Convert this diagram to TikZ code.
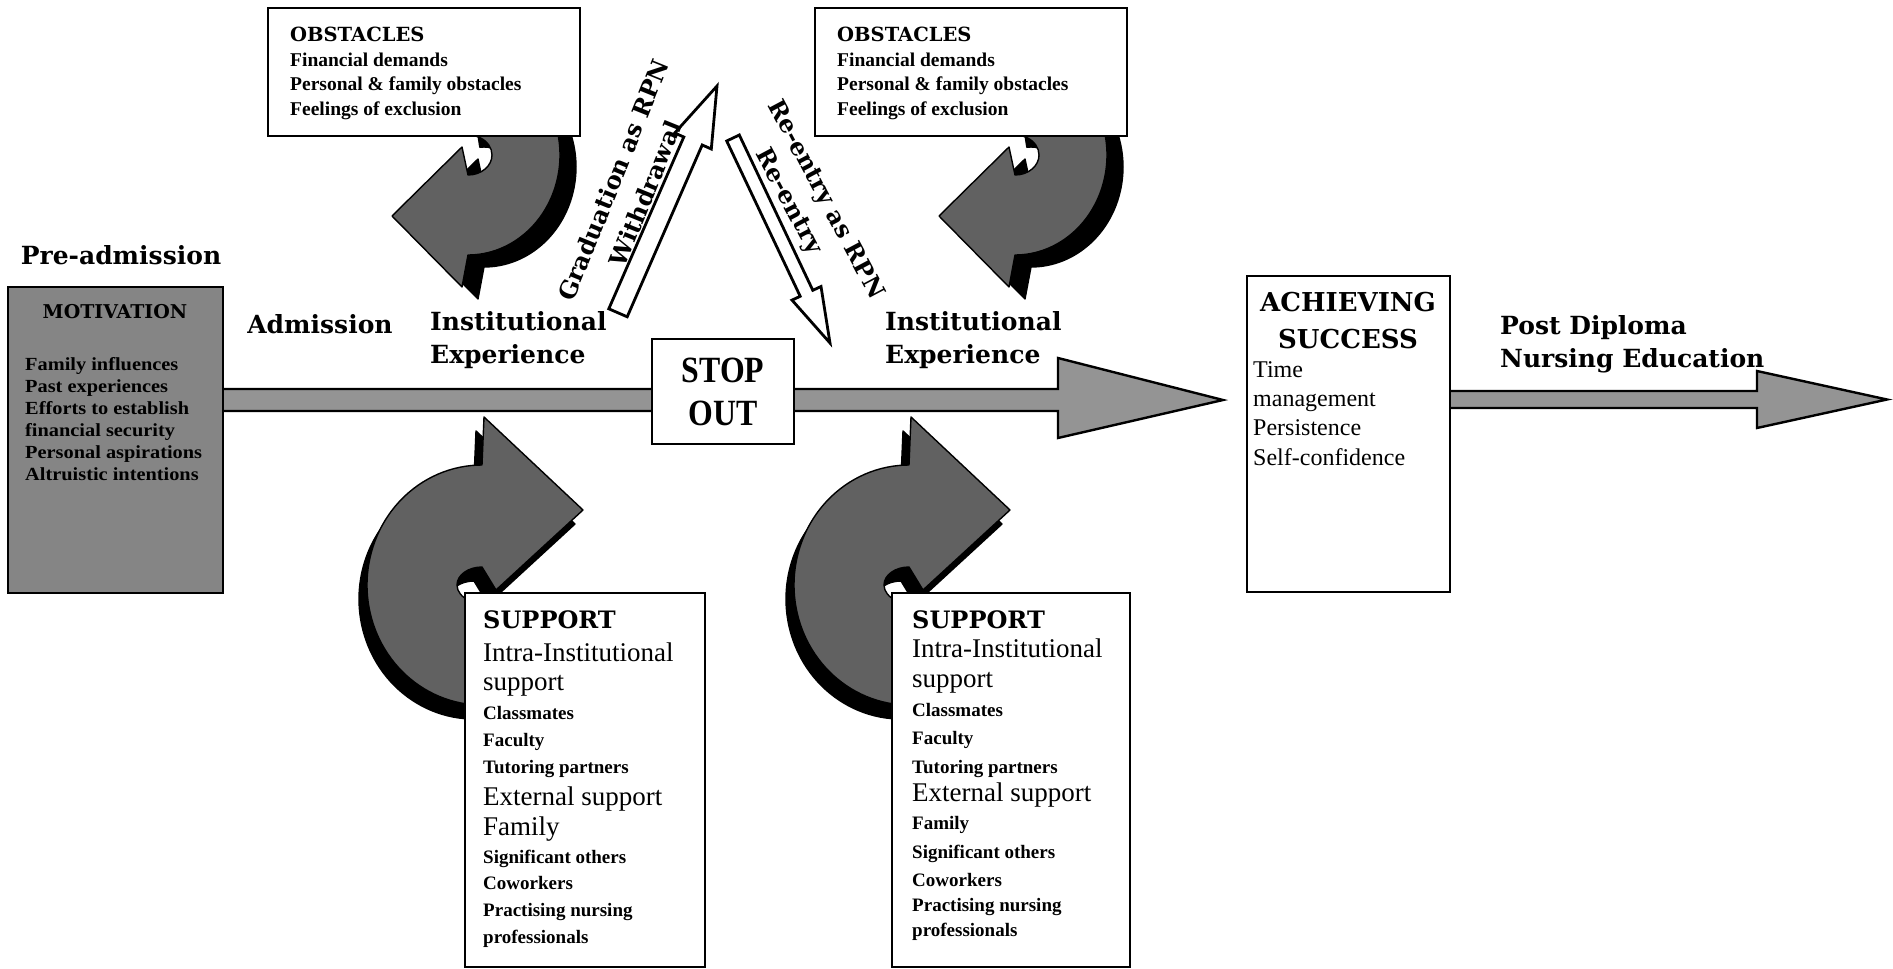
\documentclass[tikz,border=0pt]{standalone}
\usepackage{fontspec}
\setmainfont{Liberation Serif}
\newfontfamily\heavyfam{DejaVu Serif}
\newfontfamily\widefam{Liberation Serif}[FakeStretch=1.1]
\newfontfamily\condfam{Liberation Serif}[FakeStretch=0.86]
\newcommand{\hvy}[2]{\heavyfam\bfseries\fontsize{#1}{#2}\selectfont}
\newcommand{\rgl}[2]{\normalfont\fontsize{#1}{#2}\selectfont}
\newcommand{\bld}[2]{\normalfont\bfseries\fontsize{#1}{#2}\selectfont}
\usetikzlibrary{calc}
\def\obpath{($(468,155)+(-100:92 and 100)$) arc[start angle=-100,end angle=90,x radius=92,y radius=100] -- (462,287) -- (392,216) -- (462,147) -- ($(468,155)+(90:24 and 20)$) arc[start angle=90,end angle=-100,x radius=24,y radius=20] -- cycle}
\def\supath{($(482,585)+(75:115 and 120)$) arc[start angle=75,end angle=270,x radius=115,y radius=120] -- (484,417) -- (583,510) -- (496,590) -- ($(482,585)+(270:25 and 18)$) arc[start angle=270,end angle=75,x radius=25,y radius=18] -- cycle}
\begin{document}
\begin{tikzpicture}[x=1pt,y=-1pt,
  frame/.style={draw=black,line width=2.6pt,fill=white,inner sep=0pt},
  band/.style={draw=black,line width=2.4pt,fill=black!42,line join=miter},
  curvy/.style={draw=black,line width=1.4pt,fill=black!62,line join=round},
  shade3d/.style={draw=black,line width=1.4pt,fill=black,line join=round},
  hollow/.style={draw=black,line width=2.8pt,fill=white,line join=miter},
  bigl/.style={inner sep=0pt,font=\hvy{25}{33}},
  diag/.style={inner sep=0pt,font=\hvy{24}{30}},
  obH/.style={inner sep=0pt,anchor=base west,font=\hvy{19.5}{22}},
  obI/.style={inner sep=0pt,anchor=base west,font=\bld{19.5}{22}},
  supH/.style={inner sep=0pt,anchor=base west,font=\hvy{24}{28}},
  supbig/.style={inner sep=0pt,anchor=base west,font=\rgl{27}{30}},
  supsmall/.style={inner sep=0pt,anchor=base west,font=\bld{19}{22}},
  motH/.style={inner sep=0pt,font=\hvy{19}{23}},
  motI/.style={inner sep=0pt,anchor=base west,font={\widefam\bfseries\fontsize{18.5}{22}\selectfont}},
  achI/.style={inner sep=0pt,anchor=base west,font=\rgl{24}{30}}]
\useasboundingbox (0,0) rectangle (1893,969);
\fill[white] (0,0) rectangle (1893,969);

% main flow bands
\path[band] (222,389) -- (1058,389) -- (1058,358) -- (1223,400) -- (1058,438) -- (1058,411) -- (222,411) -- cycle;
\path[band] (1449,391) -- (1757,391) -- (1757,371) -- (1887,399.5) -- (1757,428) -- (1757,408) -- (1449,408) -- cycle;

% obstacle arrows
\path[shade3d,shift={(16,12)}] \obpath;
\path[curvy] \obpath;
\begin{scope}[shift={(547,0)}]
\path[shade3d,shift={(16,12)}] \obpath;
\path[curvy] \obpath;
\end{scope}

% support arrows
\path[shade3d,shift={(-8,14)}] \supath;
\path[curvy] \supath;
\begin{scope}[shift={(427,0)}]
\path[shade3d,shift={(-8,14)}] \supath;
\path[curvy] \supath;
\end{scope}

% hollow diagonal arrows
\path[hollow] (608.8,308.8) -- (683.8,137) -- (674.7,133) -- (717,86) -- (711.3,149) -- (702.2,145) -- (627.2,316.8) -- cycle;
\path[hollow] (726.7,141) -- (800.2,296.3) -- (792,300.1) -- (830,343) -- (821,286.5) -- (812.8,290.3) -- (739.3,135) -- cycle;

% boxes
\node[frame,fill=black!48,minimum width=215,minimum height=306] (motbox) at (115.5,440) {};
\node[frame,minimum width=142,minimum height=105,font={\condfam\bfseries\fontsize{37}{43}\selectfont},align=center] (stop) at (723,391.5) {STOP\\OUT};
\node[frame,minimum width=203,minimum height=316] (achbox) at (1348.5,434) {};
\node[frame,minimum width=312,minimum height=128] (ob1box) at (424,72) {};
\node[frame,minimum width=312,minimum height=128] (ob2box) at (971,72) {};
\node[frame,minimum width=240,minimum height=374] (sp1box) at (585,780) {};
\node[frame,minimum width=238,minimum height=374] (sp2box) at (1011,780) {};

% labels
\node[bigl] (pre) at (121,255) {Pre-admission};
\node[bigl] (adm) at (320,324) {Admission};
\node[bigl,align=left,anchor=west] (inst1) at (430,340) {Institutional\\Experience};
\node[bigl,align=left,anchor=west] (inst2) at (885,340) {Institutional\\Experience};
\node[bigl,align=left,anchor=west] (post) at (1500,344) {Post Diploma\\Nursing Education};
\node[diag,rotate=68] (gradA) at (613,180) {Graduation as RPN};
\node[diag,rotate=68] (gradB) at (645.6,193.4) {Withdrawal};
\node[diag,rotate=-62] (reA) at (825,200) {Re-entry as RPN};
\node[diag,rotate=-62] (reB) at (788,202) {Re-entry};

% motivation
\node[motH] (motH) at (115,312) {MOTIVATION};
\foreach \t/\y [count=\i] in {Family influences/370,Past experiences/392,Efforts to establish/414,financial security/436,Personal aspirations/458,Altruistic intentions/480}
  \node[motI] (mot\i) at (25,\y) {\t};

% achieving success
\node[inner sep=0pt,font=\hvy{26}{37},align=center] (ach) at (1348,321) {ACHIEVING\\SUCCESS};
\foreach \t/\y [count=\i] in {Time/377,management/406,Persistence/435,Self-confidence/465}
  \node[achI] (ach\i) at (1253,\y) {\t};

% obstacles texts
\foreach \x/\p in {290/oa,837/ob}{
  \node[obH] (\p0) at (\x,41) {OBSTACLES};
  \node[obI] (\p1) at (\x,66) {Financial demands};
  \node[obI] (\p2) at (\x,90) {Personal \& family obstacles};
  \node[obI] (\p3) at (\x,115) {Feelings of exclusion};
}

% support texts
\foreach \t/\s/\y [count=\i] in {SUPPORT/supH/628,Intra-Institutional/supbig/661,support/supbig/690,Classmates/supsmall/719,Faculty/supsmall/746,Tutoring partners/supsmall/773,External support/supbig/805,Family/supbig/835,Significant others/supsmall/863,Coworkers/supsmall/889,Practising nursing/supsmall/916,professionals/supsmall/943}
  \node[\s] (sa\i) at (483,\y) {\t};
\foreach \t/\s/\y [count=\i] in {SUPPORT/supH/628,Intra-Institutional/supbig/657,support/supbig/687,Classmates/supsmall/716,Faculty/supsmall/744,Tutoring partners/supsmall/773,External support/supbig/801,Family/supsmall/829,Significant others/supsmall/858,Coworkers/supsmall/886,Practising nursing/supsmall/911,professionals/supsmall/936}
  \node[\s] (sb\i) at (912,\y) {\t};
\end{tikzpicture}
\end{document}
